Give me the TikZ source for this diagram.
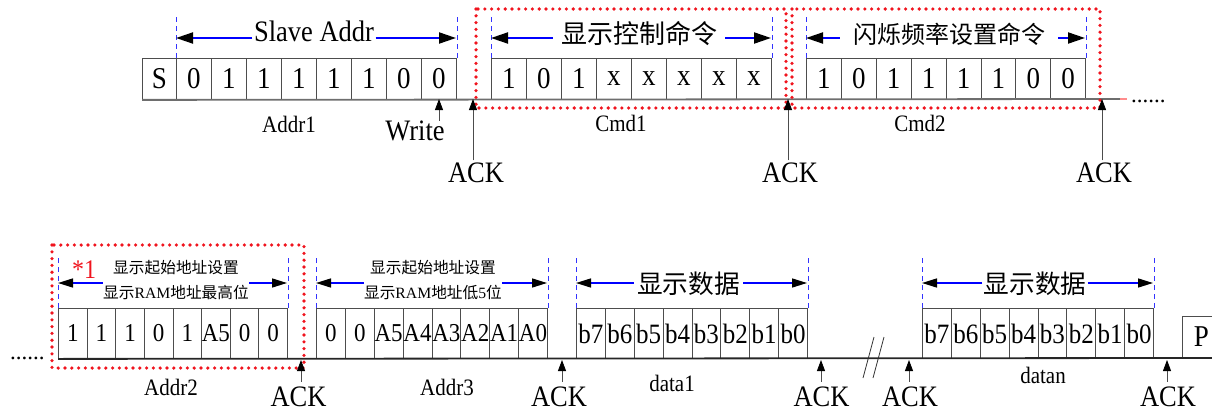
\documentclass[tikz,border=0pt]{standalone}
\usepackage{fontspec}
\setmainfont{Liberation Serif}
\newfontfamily\cjk{Noto Sans CJK SC}
\usetikzlibrary{arrows.meta}
\newcommand{\vs}[1]{\scalebox{1}[1.12]{#1}}
\newcommand{\fs}[1]{\fontsize{#1}{#1}\selectfont}
\definecolor{boxc}{HTML}{4D4D4D}
\definecolor{basec}{HTML}{6E6E6E}
\definecolor{dred}{HTML}{F0141E}
\begin{document}
\begin{tikzpicture}[x=1pt,y=-1pt,
 cT/.style={draw=boxc,line width=0.9pt,minimum width=35pt,minimum height=41pt,inner sep=0pt,anchor=north west,font=\fs{27}},
 cB/.style={draw=boxc,line width=0.9pt,minimum width=28.875pt,minimum height=50pt,inner sep=0pt,anchor=north west,font=\fs{23}},
 lbl/.style={inner sep=0pt,font=\fs{21}},
 ack/.style={inner sep=0pt,font=\fs{26.5}},
 base/.style={line width=1.8pt,draw=basec},
 bdash/.style={draw=blue!80,line width=0.8pt,dash pattern=on 5pt off 4pt},
 barT/.style={draw=blue,line width=2pt,-{Triangle[length=17pt,width=11pt,color=black]}},
 barB/.style={draw=blue,line width=1.5pt,-{Triangle[length=15pt,width=9pt,color=black]}},
 ackarr/.style={draw=black!70,line width=0.8pt,-{Triangle[length=11pt,width=8pt,color=black]}},
 redbox/.style={draw=dred,line width=3.6pt,dash pattern=on 0pt off 6.8pt,line cap=round},
 hdT/.style={inner ysep=0pt,font=\cjk\fs{26}},
 hdS/.style={inner sep=0pt,align=center,font=\cjk\fontsize{15.7}{25}\selectfont},
]
\useasboundingbox (0,0) rectangle (1212,412);

% ---------------- top row ----------------
\node[cT,minimum width=34pt] (s) at (142,58) {\vs{S}};
\foreach \t [count=\i from 0] in {0,1,1,1,1,1,0,0}
  \node[cT] (a\i) at ({176+35*\i},58) {\vs{\t}};
\foreach \t [count=\i from 0] in {1,0,1,x,x,x,x,x}
  \node[cT] (c\i) at ({491+35*\i},58) {\vs{\t}};
\foreach \t [count=\i from 0] in {1,0,1,1,1,1,0,0}
  \node[cT,minimum width=34.9pt] (e\i) at ({806+34.9*\i},58) {\vs{\t}};

\coordinate (tEnd) at (1120,99);
\coordinate (tEnd2) at (1127,99);
\draw[base] (s.south west) -- (tEnd);
\draw[line width=1.8pt,draw=red!45] (tEnd) -- (tEnd2);
\node[anchor=base west,inner sep=0pt,font=\fs{23}] (dT) at (1131,102) {......};

% dashed guides top
\foreach \n in {a0.north west,a7.north east,c0.north west,c7.north east,e0.north west,e7.north east}
  \draw[bdash] (\n) -- ++(0,-41);

% headers top
\coordinate (saL) at (176,38); \coordinate (saR) at (456,38);
\node[font=\fs{26.5},inner xsep=1.5pt,inner ysep=0pt] (sa) at (314,31) {\vs{Slave Addr}};
\draw[barT] (sa.west |- saL) -- (saL);
\draw[barT] (sa.east |- saR) -- (saR);

\coordinate (c1L) at (491,38); \coordinate (c1R) at (771,38);
\node[hdT,inner xsep=8pt] (hd1) at (639,34) {显示控制命令};
\draw[barT] (hd1.west |- c1L) -- (c1L);
\draw[barT] (hd1.east |- c1R) -- (c1R);

\coordinate (c2L) at (806,38); \coordinate (c2R) at (1085,38);
\node[hdT,font=\cjk\fs{24},inner xsep=13pt] (hd2) at (949,34) {闪烁频率设置命令};
\draw[barT] (hd2.west |- c2L) -- (c2L);
\draw[barT] (hd2.east |- c2R) -- (c2R);

% red dotted frames top
\draw[redbox] (476,9) rectangle (786,108);
\draw[redbox] (792,9) rectangle (1100,108);

% labels top
\node[lbl] (addr1) at (289,124) {\vs{Addr1}};
\node[lbl] (cmd1) at (621,123.5) {\vs{Cmd1}};
\node[lbl] (cmd2) at (920,123.5) {\vs{Cmd2}};
\node[ack] (write) at (415,131) {\vs{Write}};
\coordinate (pw) at (439,99);
\draw[ackarr] (write.north -| pw) -- (pw);

\node[ack] (ak1) at (476,172.5) {\vs{ACK}};
\node[ack] (ak2) at (790,172.5) {\vs{ACK}};
\node[ack] (ak3) at (1104,172.5) {\vs{ACK}};
\coordinate (p1) at (473,99);
\coordinate (p2) at (788,99);
\coordinate (p3) at (1102,99);
\draw[ackarr,shorten <=2pt] (ak1.north -| p1) -- (p1);
\draw[ackarr,shorten <=2pt] (ak2.north -| p2) -- (p2);
\draw[ackarr,shorten <=2pt] (ak3.north -| p3) -- (p3);

% ---------------- bottom row ----------------
\foreach \t [count=\i from 0] in {1,1,1,0,1,A5,0,0}
  \node[cB,minimum width=28.625pt] (f\i) at ({58+28.625*\i},308) {\vs{\t}};
\foreach \t [count=\i from 0] in {0,0,A5,A4,A3,A2,A1,A0}
  \node[cB] (g\i) at ({316+28.875*\i},308) {\vs{\t}};
\foreach \t [count=\i from 0] in {b7,b6,b5,b4,b3,b2,b1,b0}
  \node[cB,font=\fs{25}] (h\i) at ({576+28.875*\i},308) {\vs{\t}};
\foreach \t [count=\i from 0] in {b7,b6,b5,b4,b3,b2,b1,b0}
  \node[cB,font=\fs{25}] (k\i) at ({922+28.875*\i},308) {\vs{\t}};
\node[draw=boxc,line width=0.9pt,minimum width=38pt,minimum height=41pt,anchor=south west,inner sep=0pt,font=\fs{27}] (P) at (1182,358) {\vs{P}};

\coordinate (bEnd) at (1212,358);
\draw[base,draw=black!85] (f0.south west) -- (bEnd);
\node[anchor=base west,inner sep=0pt,font=\fs{23}] (dB) at (10,359) {......};

% break marks
\draw[line width=0.8pt,draw=black!80] (863,378) -- (874,337);
\draw[line width=0.8pt,draw=black!80] (873,378) -- (884,337);

% dashed guides bottom
\foreach \n in {f0.north west,f7.north east,g0.north west,g7.north east,h0.north west,h7.north east,k0.north west,k7.north east}
  \draw[bdash] (\n) -- ++(0,-50);

% headers bottom
\coordinate (fL) at (58,283); \coordinate (fR) at (287,283);
\node[hdS] (hd3) at (176,280.5) {显示起始地址设置\\显示{\rmfamily RAM}地址最高位};
\draw[barB] (hd3.west |- fL) -- (fL);
\draw[barB] (hd3.east |- fR) -- (fR);

\coordinate (gL) at (316,283); \coordinate (gR) at (547,283);
\node[hdS] (hd4) at (433,280.5) {显示起始地址设置\\显示{\rmfamily RAM}地址低{\rmfamily 5}位};
\draw[barB] (hd4.west |- gL) -- (gL);
\draw[barB] (hd4.east |- gR) -- (gR);

\coordinate (hL) at (576,283); \coordinate (hR) at (807,283);
\node[hdT,font=\cjk\fs{25.7},inner xsep=3pt] (hd5) at (688.5,284) {显示数据};
\draw[barB] (hd5.west |- hL) -- (hL);
\draw[barB] (hd5.east |- hR) -- (hR);

\coordinate (kL) at (922,283); \coordinate (kR) at (1153,283);
\node[hdT,font=\cjk\fs{25.7},inner xsep=1pt] (hd6) at (1035,284) {显示数据};
\draw[barB] (hd6.west |- kL) -- (kL);
\draw[barB] (hd6.east |- kR) -- (kR);

\node[text=dred,inner sep=0pt,font=\fs{24}] (star) at (84,270) {\vs{*1}};

\draw[redbox] (52,245) rectangle (304,368);

% labels bottom
\node[lbl] (addr2) at (171,387.5) {\vs{Addr2}};
\node[lbl] (addr3) at (447,387.5) {\vs{Addr3}};
\node[lbl] (data1) at (672,383.5) {\vs{data1}};
\node[lbl] (datan) at (1043,375) {\vs{datan}};

\node[ack] (akb1) at (298.5,397) {\vs{ACK}};
\node[ack] (akb2) at (559,397) {\vs{ACK}};
\node[ack] (akb3) at (821.5,397) {\vs{ACK}};
\node[ack] (akb4) at (910,397) {\vs{ACK}};
\node[ack] (akb5) at (1168,397) {\vs{ACK}};
\coordinate (q1) at (301,360);
\coordinate (q2) at (562,360);
\coordinate (q3) at (821,360);
\coordinate (q4) at (909,360);
\coordinate (q5) at (1167,360);
\draw[ackarr,shorten <=5pt] (akb1.north -| q1) -- (q1);
\draw[ackarr,shorten <=5pt] (akb2.north -| q2) -- (q2);
\draw[ackarr,shorten <=5pt] (akb3.north -| q3) -- (q3);
\draw[ackarr,shorten <=5pt] (akb4.north -| q4) -- (q4);
\draw[ackarr,shorten <=5pt] (akb5.north -| q5) -- (q5);
\end{tikzpicture}
\end{document}
